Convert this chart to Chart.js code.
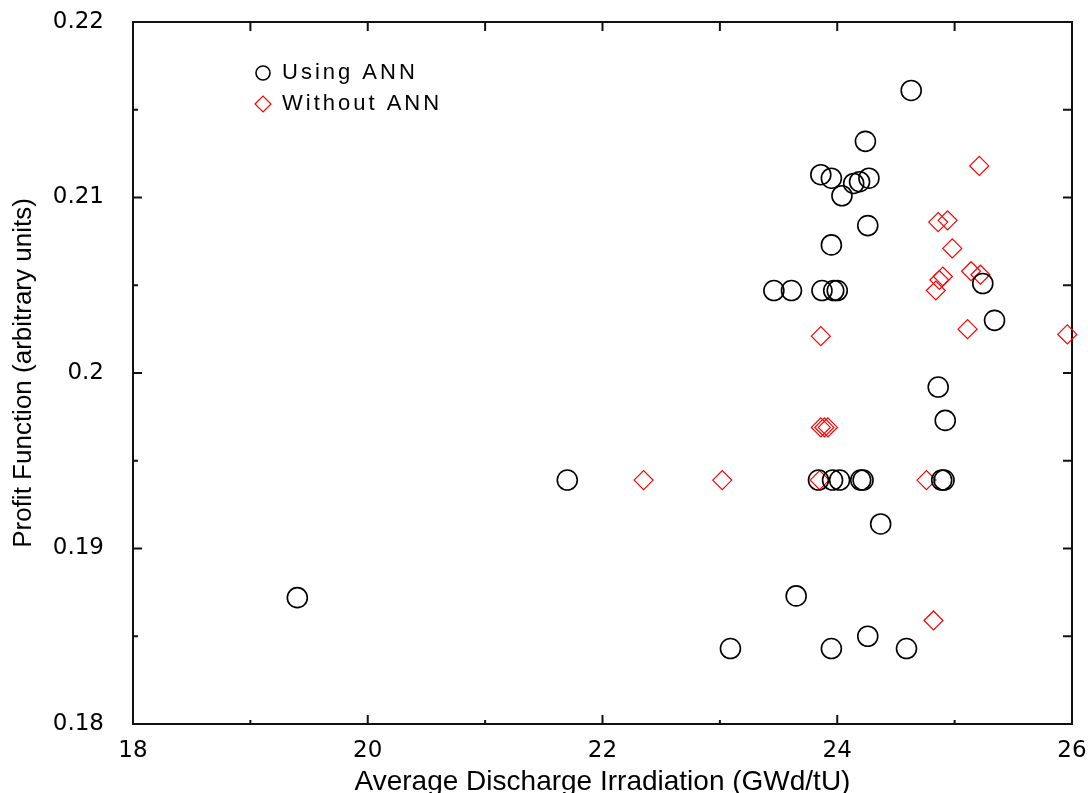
<!DOCTYPE html>
<html>
<head>
<meta charset="utf-8">
<script src="https://cdn.jsdelivr.net/npm/chart.js@4.4.1/dist/chart.umd.min.js"></script>
<style>
  html, body { margin: 0; padding: 0; background: #fff; }
  #wrap { width: 1088px; height: 793px; }
</style>
</head>
<body>
<div id="wrap"><canvas id="chart" width="1088" height="793"></canvas></div>
<script>
// Using ANN (black circles)
const annX = [19.40, 21.70, 23.09, 23.46, 23.61, 23.65, 23.84, 23.86, 23.87, 23.95, 23.95, 23.97,
              24.00, 23.95, 23.96, 24.02, 24.04, 24.14, 24.19, 24.27, 24.20, 24.22, 24.24, 24.26,
              24.26, 24.37, 24.59, 24.63, 24.86, 24.89, 24.91, 24.92, 25.24, 25.34];
const annY = [0.1872, 0.1939, 0.1843, 0.2047, 0.2047, 0.1873, 0.1939, 0.2113, 0.2047, 0.2111, 0.2073, 0.2047,
              0.2047, 0.1843, 0.1939, 0.1939, 0.2101, 0.2108, 0.2109, 0.2111, 0.1939, 0.1939, 0.2132, 0.2084,
              0.1850, 0.1914, 0.1843, 0.2161, 0.1992, 0.1939, 0.1939, 0.1973, 0.2051, 0.2030];

// Without ANN (red diamonds)
const noAnnX = [22.35, 23.02, 23.85, 23.86, 23.86, 23.89, 23.92, 24.76, 24.82, 24.84,
                24.86, 24.87, 24.90, 24.94, 24.98, 25.11, 25.14, 25.21, 25.22, 25.96];
const noAnnY = [0.1939, 0.1939, 0.1939, 0.2021, 0.1969, 0.1969, 0.1969, 0.1939, 0.1859, 0.2047,
                0.2086, 0.2053, 0.2055, 0.2087, 0.2071, 0.2025, 0.2058, 0.2118, 0.2056, 0.2022];

const xTickValues = [18, 19, 20, 21, 22, 23, 24, 25, 26];
const xTickLabels = ['18', '', '20', '', '22', '', '24', '', '26'];
const yTickValues = [0.18, 0.185, 0.19, 0.195, 0.2, 0.205, 0.21, 0.215, 0.22];
const yTickLabels = ['0.18', '', '0.19', '', '0.2', '', '0.21', '', '0.22'];

function toPoints(xs, ys) {
    return xs.map((x, i) => ({ x: x, y: ys[i] }));
}

// box frame with inward tick marks on all four sides
const frameTicks = {
    id: 'frameTicks',
    beforeDatasetsDraw(chart) {
        const { ctx, chartArea: a, scales: { x, y } } = chart;
        ctx.save();
        ctx.strokeStyle = '#111';
        ctx.lineWidth = 2;
        ctx.strokeRect(a.left, a.top, a.right - a.left, a.bottom - a.top);
        ctx.beginPath();
        xTickValues.forEach((v, i) => {
            const px = x.getPixelForValue(v);
            const major = xTickLabels[i] !== '';
            ctx.moveTo(px, a.bottom);
            ctx.lineTo(px, a.bottom - (major ? 9 : 4));
            ctx.moveTo(px, a.top);
            ctx.lineTo(px, a.top + 9);
        });
        yTickValues.forEach((v, i) => {
            const py = y.getPixelForValue(v);
            const major = yTickLabels[i] !== '';
            ctx.moveTo(a.left, py);
            ctx.lineTo(a.left + (major ? 9 : 5), py);
            ctx.moveTo(a.right, py);
            ctx.lineTo(a.right - 9, py);
        });
        ctx.stroke();
        ctx.restore();
    }
};

// legend sitting inside the plot, top left
const insetLegend = {
    id: 'insetLegend',
    afterDraw(chart) {
        const { ctx, chartArea: a } = chart;
        ctx.save();
        ctx.font = '22px "Liberation Sans", Arial, sans-serif';
        ctx.letterSpacing = '3px';
        ctx.textBaseline = 'middle';
        chart.data.datasets.forEach((ds, i) => {
            const cx = a.left + 130;
            const cy = a.top + 51 + i * 31;
            ctx.strokeStyle = ds.borderColor;
            ctx.lineWidth = ds.borderWidth;
            ctx.beginPath();
            if (ds.pointStyle === 'circle') {
                ctx.arc(cx, cy, 7, 0, Math.PI * 2);
            } else {
                ctx.moveTo(cx - 8, cy);
                ctx.lineTo(cx, cy - 8);
                ctx.lineTo(cx + 8, cy);
                ctx.lineTo(cx, cy + 8);
                ctx.closePath();
            }
            ctx.stroke();
            ctx.fillStyle = '#000';
            ctx.fillText(ds.label, cx + 19, cy);
        });
        ctx.restore();
    }
};

const ctx = document.getElementById('chart').getContext('2d');
new Chart(ctx, {
    type: 'scatter',
    data: {
        datasets: [
            {
                label: 'Using ANN',
                data: toPoints(annX, annY),
                pointStyle: 'circle',
                pointRadius: 10,
                borderColor: '#000',
                backgroundColor: 'rgba(0,0,0,0)',
                borderWidth: 1.6,
                clip: false
            },
            {
                label: 'Without ANN',
                data: toPoints(noAnnX, noAnnY),
                pointStyle: 'rectRot',
                pointRadius: 9.5,
                borderColor: '#ff0000',
                backgroundColor: 'rgba(0,0,0,0)',
                borderWidth: 1.2,
                clip: false
            }
        ]
    },
    options: {
        responsive: false,
        animation: false,
        devicePixelRatio: 1,
        layout: { padding: { top: 22, right: 16, left: 0, bottom: 0 } },
        plugins: {
            legend: { display: false },
            tooltip: { enabled: false }
        },
        scales: {
            x: {
                type: 'linear',
                min: 18,
                max: 26,
                afterBuildTicks: (s) => { s.ticks = xTickValues.map(v => ({ value: v })); },
                afterFit: (s) => { s.height = 69; s.paddingLeft = 0; s.paddingRight = 0; },
                grid: { display: false },
                border: { display: false },
                ticks: {
                    autoSkip: false,
                    maxRotation: 0,
                    padding: 5,
                    color: '#000',
                    font: { family: '"DejaVu Sans", sans-serif', size: 23 },
                    callback: (v, i) => xTickLabels[i]
                },
                title: {
                    display: true,
                    text: 'Average Discharge Irradiation (GWd/tU)',
                    color: '#000',
                    font: { family: '"Liberation Sans", Arial, sans-serif', size: 28, lineHeight: 1 },
                    padding: { top: 0, bottom: -3 }
                }
            },
            y: {
                type: 'linear',
                min: 0.18,
                max: 0.22,
                afterBuildTicks: (s) => { s.ticks = yTickValues.map(v => ({ value: v })); },
                afterFit: (s) => { s.width = 133; s.paddingTop = 0; s.paddingBottom = 0; },
                grid: { display: false },
                border: { display: false },
                ticks: {
                    autoSkip: false,
                    padding: 21,
                    color: '#000',
                    font: { family: '"DejaVu Sans", sans-serif', size: 23 },
                    callback: (v, i) => yTickLabels[i]
                },
                title: {
                    display: true,
                    text: 'Profit Function (arbitrary units)',
                    color: '#000',
                    font: { family: '"Liberation Sans", Arial, sans-serif', size: 26, lineHeight: 1 },
                    padding: { top: 11, bottom: 0 }
                }
            }
        }
    },
    plugins: [frameTicks, insetLegend]
});
</script>
</body>
</html>
